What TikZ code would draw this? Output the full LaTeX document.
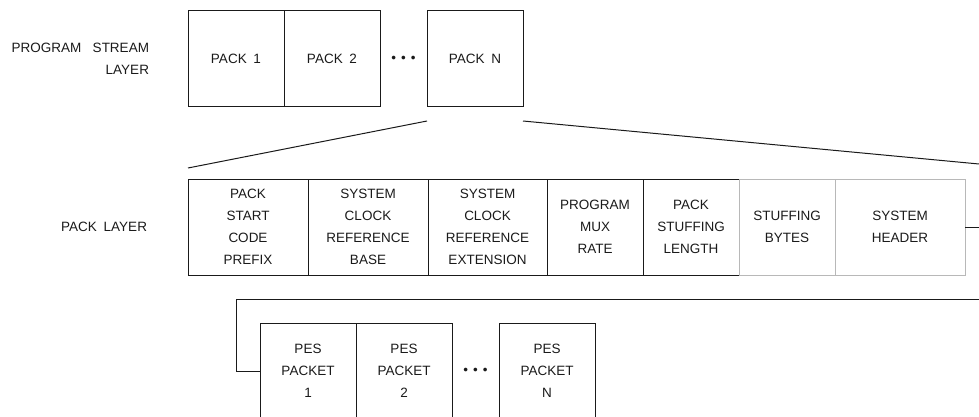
\documentclass[tikz,border=0pt]{standalone}
\usepackage{fontspec}
\setmainfont{Liberation Sans}
\usetikzlibrary{positioning}
\definecolor{ink}{HTML}{1A1A1A}
\definecolor{faint}{HTML}{B8B8B8}
\newcommand{\wsp}{\hspace{0.5em}}
\newcommand{\gapdots}{\textbullet\hspace{5pt}\textbullet\hspace{5pt}\textbullet}

\begin{document}
\begin{tikzpicture}[x=1pt,y=-1pt,
  every node/.style={font=\fontsize{13.5pt}{22pt}\selectfont,text=ink,align=center,inner sep=0pt,outer sep=0pt},
  field/.style={draw=ink,line width=1pt,minimum height=96pt,minimum width=#1},
  field/.default=96pt,
  softfield/.style={field=#1,draw=faint},
  softfield/.default=96pt,
  skip/.style={minimum width=47pt,minimum height=96pt},
  wire/.style={draw=ink,line width=1pt}]
\useasboundingbox (0,0) rectangle (979,417);
\clip (0,0) rectangle (979,417);

% program stream layer
\node[field] (pack1) at (236,59) {PACK\wsp 1};
\node[field,right=0pt of pack1] (pack2) {PACK\wsp 2};
\node[skip,right=0pt of pack2] (packdots) {\gapdots};
\node[field,right=0pt of packdots] (packN) {PACK\wsp N};
\node[align=right,left=39pt of pack1] (streamlbl) {PROGRAM\hspace{0.85em}STREAM\\LAYER};

% pack layer
\node[field=120pt] (prefix) at (248,227) {PACK\\START\\CODE\\PREFIX};
\node[field=120pt,right=0pt of prefix] (scrbase) {SYSTEM\\CLOCK\\REFERENCE\\BASE};
\node[field=119pt,right=0pt of scrbase] (scrext) {SYSTEM\\CLOCK\\REFERENCE\\EXTENSION};
\node[field,right=0pt of scrext] (muxrate) {PROGRAM\\MUX\\RATE};
\node[field,right=0pt of muxrate] (stuflen) {PACK\\STUFFING\\LENGTH};
\node[softfield,right=0pt of stuflen] (stufbytes) {STUFFING\\BYTES};
\node[softfield=130pt,right=0pt of stufbytes] (sysheader) {SYSTEM\\HEADER};
\node[left=41pt of prefix] (packlbl) {PACK\wsp LAYER};

% pes packets
\node[field] (pes1) at (308,371) {PES\\PACKET\\1};
\node[field,right=0pt of pes1] (pes2) {PES\\PACKET\\2};
\node[skip,right=0pt of pes2] (pesdots) {\gapdots};
\node[field,right=0pt of pesdots] (pesN) {PES\\PACKET\\N};

% fan out of pack N
\coordinate[below=14pt of packN.south west] (fanA);
\coordinate[below=14pt of packN.south east] (fanB);
\coordinate[above=11pt of prefix.north west] (fanC);
\coordinate (fanD) at (979,164);
\draw[wire] (fanA) -- (fanC);
\draw[wire] (fanB) -- (fanD);

% system header runs on into the pes packets
\coordinate[right=14pt of sysheader.east] (edgeA);
\coordinate (edgeB) at (979,299);
\coordinate[left=24pt of pes1.west] (turnA);
\draw[wire] (sysheader.east) -- (edgeA);
\draw[wire] (edgeB) -| (turnA) -- (pes1.west);
\end{tikzpicture}
\end{document}
